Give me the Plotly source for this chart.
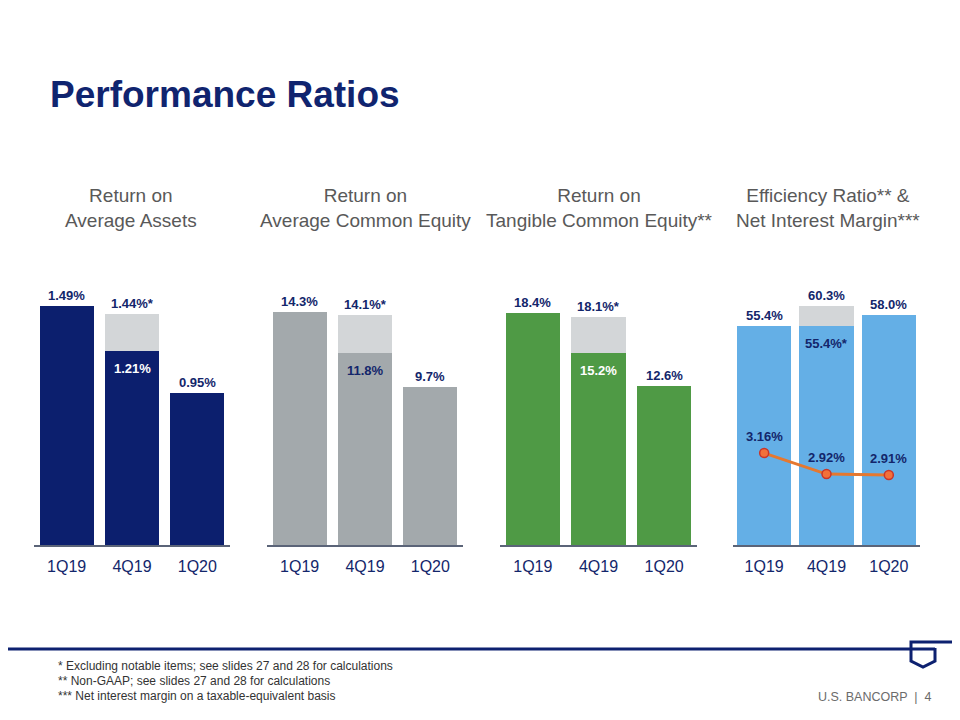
import plotly.graph_objects as go

# ---------------- data ----------------
quarters = ["1Q19", "4Q19", "1Q20"]

roa = [1.49, 1.21, 0.95]
roa_adj = [None, 1.44, None]

roce = [14.3, 11.8, 9.7]
roce_adj = [None, 14.1, None]

rotce = [18.4, 15.2, 12.6]
rotce_adj = [None, 18.1, None]

eff = [55.4, 55.4, 58.0]
eff_rep = [None, 60.3, None]
nim = [3.16, 2.92, 2.91]

panel_titles = [
    "Return on<br>Average Assets",
    "Return on<br>Average Common Equity",
    "Return on<br>Tangible Common Equity**",
    "Efficiency Ratio** &<br>Net Interest Margin***",
]
footnotes = [
    "* Excluding notable items; see slides 27 and 28 for calculations",
    "** Non-GAAP; see slides 27 and 28 for calculations",
    "*** Net interest margin on a taxable-equivalent basis",
]

# ---------------- style ----------------
W, H = 960, 720
OFF = 8  # page body margin offset
FONT = "Liberation Sans, Arial, sans-serif"
NAVY = "#0d2170"
LABEL = "#13266b"
LIGHT = "#d3d6d8"
AXIS = "#5b6478"


def px(x):
    return (x - OFF) / W


def py(y):
    return 1 - (y - OFF) / H


fig = go.Figure()

bottom, top = 545, 280
ydom = [py(bottom), py(top)]
xdoms = [(34, 230), (267, 463), (500, 697), (733, 920)]
yranges = [[0, 1.652], [0, 16.26], [0, 21.03], [0, 66.9]]
widths = [0.83, 0.83, 0.83, 0.87]

panels = [
    (roa, roa_adj, "#0c1f6e", "%.2f%%", "white"),
    (roce, roce_adj, "#a3a9ac", "%.1f%%", LABEL),
    (rotce, rotce_adj, "#4f9a45", "%.1f%%", "white"),
    (eff, eff_rep, "#64afe6", "%.1f%%", LABEL),
]

annotations = []
for i, (base, adj, color, fmt, inner_col) in enumerate(panels):
    n = "" if i == 0 else str(i + 1)
    xa, ya = "x" + n, "y" + n
    extra = [None if a is None else round(a - b, 2) for a, b in zip(adj, base)]
    fig.add_trace(go.Bar(x=quarters, y=base, marker=dict(color=color, line=dict(width=0)),
                         width=widths[i], xaxis=xa, yaxis=ya, hoverinfo="skip"))
    fig.add_trace(go.Bar(x=quarters, y=extra, marker=dict(color=LIGHT, line=dict(width=0)),
                         width=widths[i], xaxis=xa, yaxis=ya, hoverinfo="skip"))
    for q, b, a in zip(quarters, base, adj):
        if a is None:
            annotations.append(dict(x=q, y=b, xref=xa, yref=ya, text="<b>" + (fmt % b) + "</b>",
                                    showarrow=False, yanchor="bottom", yshift=1,
                                    font=dict(size=13, color=LABEL, family=FONT)))
        else:
            star_top = i < 3
            top_txt = (fmt % a) + ("*" if star_top else "")
            in_txt = (fmt % b) + ("" if star_top else "*")
            annotations.append(dict(x=q, y=a, xref=xa, yref=ya, text="<b>" + top_txt + "</b>",
                                    showarrow=False, yanchor="bottom", yshift=1,
                                    font=dict(size=13, color=LABEL, family=FONT)))
            annotations.append(dict(x=q, y=b, xref=xa, yref=ya, text="<b>" + in_txt + "</b>",
                                    showarrow=False, yanchor="top", yshift=-8,
                                    font=dict(size=13, color=inner_col, family=FONT)))

# NIM line on secondary axis of panel 4
fig.add_trace(go.Scatter(x=quarters, y=nim, xaxis="x4", yaxis="y5", mode="lines+markers",
                         line=dict(color="#e5782f", width=3),
                         marker=dict(size=9, color="#f2703a", line=dict(color="#c8352a", width=1.5)),
                         hoverinfo="skip"))
for q, v in zip(quarters, nim):
    annotations.append(dict(x=q, y=v, xref="x4", yref="y5", text="<b>%.2f%%</b>" % v,
                            showarrow=False, yanchor="bottom", yshift=7,
                            font=dict(size=13, color=LABEL, family=FONT)))

layout = dict(
    width=W, height=H, margin=dict(l=0, r=0, t=0, b=0),
    paper_bgcolor="white", plot_bgcolor="rgba(0,0,0,0)",
    showlegend=False, barmode="stack",
    font=dict(family=FONT),
)
for i, (x0, x1) in enumerate(xdoms):
    n = "" if i == 0 else str(i + 1)
    layout["xaxis" + n] = dict(domain=[px(x0), px(x1)], anchor="y" + n, type="category",
                               showline=True, linecolor=AXIS, linewidth=1.5, showgrid=False,
                               zeroline=False, ticks="outside", ticklen=6,
                               tickcolor="rgba(0,0,0,0)", fixedrange=True,
                               tickfont=dict(size=16, color=LABEL, family=FONT))
    layout["yaxis" + n] = dict(domain=ydom, anchor="x" + n, range=yranges[i], visible=False,
                               fixedrange=True)
layout["yaxis5"] = dict(domain=ydom, anchor="x4", overlaying="y4", range=[2.109, 5.138],
                        visible=False, fixedrange=True)

# panel titles
centers = [131, 365, 599, 828]
for c, t in zip(centers, panel_titles):
    annotations.append(dict(x=px(c), y=py(208), xref="paper", yref="paper", text=t,
                            showarrow=False, xanchor="center", yanchor="middle",
                            font=dict(size=19, color="#595959", family=FONT)))

# main title
annotations.append(dict(x=px(48), y=py(94), xref="paper", yref="paper",
                        text="<b>Performance Ratios</b>", showarrow=False,
                        xanchor="left", yanchor="middle",
                        font=dict(size=37, color="#10246f", family=FONT)))

# footnotes
for k, t in enumerate(footnotes):
    annotations.append(dict(x=px(56), y=py(666 + 15 * k), xref="paper", yref="paper", text=t,
                            showarrow=False, xanchor="left", yanchor="middle",
                            font=dict(size=12, color="#333333", family=FONT)))

# footer
annotations.append(dict(x=px(934), y=py(697), xref="paper", yref="paper",
                        text="U.S. BANCORP  |  4", showarrow=False,
                        xanchor="right", yanchor="middle",
                        font=dict(size=12.5, color="#6b6b6b", family=FONT)))

layout["annotations"] = annotations

# footer rule and logo mark
L = NAVY
path = "M %f,%f L %f,%f" % (px(0), py(649), px(935), py(649))
logo = ("M %f,%f L %f,%f L %f,%f L %f,%f L %f,%f L %f,%f" %
        (px(960), py(642), px(911), py(642), px(911), py(661),
         px(923), py(667), px(935), py(661), px(935), py(648)))
layout["shapes"] = [
    dict(type="path", xref="paper", yref="paper", path=path, line=dict(color=L, width=3)),
    dict(type="path", xref="paper", yref="paper", path=logo, line=dict(color=L, width=3)),
]

fig.update_layout(**layout)
fig.write_html("out.html")
